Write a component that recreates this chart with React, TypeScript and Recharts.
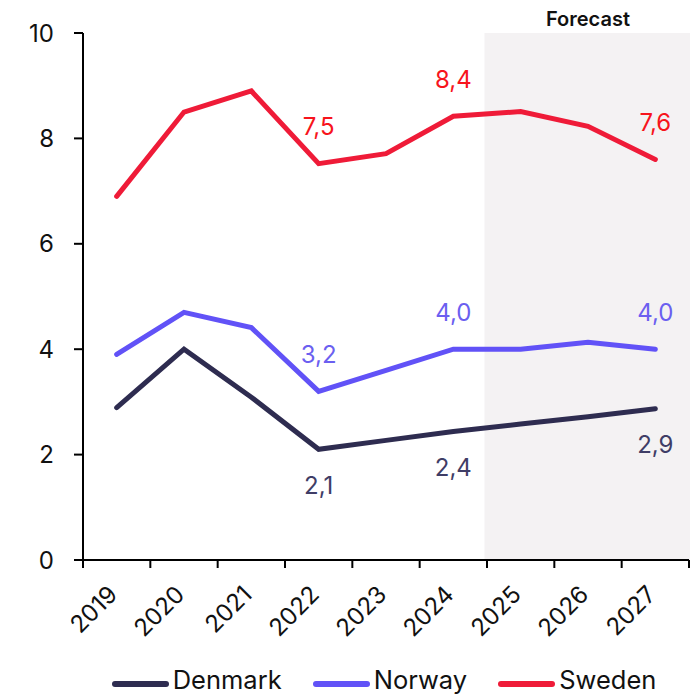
import React from 'react';
import { LineChart, Line, XAxis, YAxis, ReferenceArea, Legend, LabelList } from 'recharts';

const years = ['2019', '2020', '2021', '2022', '2023', '2024', '2025', '2026', '2027'];
const denmark = [2.89, 4.0, 3.09, 2.1, 2.27, 2.44, 2.58, 2.72, 2.87];
const norway = [3.9, 4.7, 4.41, 3.2, 3.6, 4.0, 4.0, 4.13, 4.0];
const sweden = [6.9, 8.5, 8.9, 7.52, 7.71, 8.42, 8.51, 8.23, 7.6];
const yTicks = [0, 2, 4, 6, 8, 10];
const labelledYears = ['2022', '2024', '2027'];
const forecastStart = '2025';
const forecastEnd = '2027';

const data = years.map((year, i) => ({
  year,
  Denmark: denmark[i],
  Norway: norway[i],
  Sweden: sweden[i],
}));

const W = 700;
const H = 695;
const PLOT_LEFT = 83;
const PLOT_RIGHT = 689;
const HALF_BAND = (PLOT_RIGHT - PLOT_LEFT) / years.length / 2;

const COLORS = { Denmark: '#2e2c50', Norway: '#6152f7', Sweden: '#ef1b38' };
const LABEL_COLORS = { Denmark: '#3f3d66', Norway: '#6b5ff0', Sweden: '#f7141c' };

const fmt = (v: number) => v.toFixed(1).replace('.', ',');

const YearTick = ({ x, y, payload, index }: any) => {
  const tx = x + 2;
  const ty = y + 36;
  return (
    <g>
      <line x1={x - HALF_BAND} x2={x - HALF_BAND} y1={y} y2={y + 8} stroke="#000" strokeWidth={2} />
      {index === years.length - 1 && (
        <line x1={x + HALF_BAND} x2={x + HALF_BAND} y1={y} y2={y + 8} stroke="#000" strokeWidth={2} />
      )}
      <text
        x={tx}
        y={ty}
        transform={`rotate(-45 ${tx} ${ty})`}
        textAnchor="end"
        fontSize={24}
        fill="#111"
      >
        {payload.value}
      </text>
    </g>
  );
};

// value labels only on a few years, above or below the point
const makeLabel = (color: string, dy: number) => (props: any) => {
  const { x, y, value, index } = props;
  if (!labelledYears.includes(years[index])) return null;
  return (
    <text x={x} y={y + dy} textAnchor="middle" dominantBaseline="central" fill={color} fontSize={24}>
      {fmt(value)}
    </text>
  );
};

const ForecastShade = (props: any) => {
  const { x, y, width, height } = props;
  return <rect x={x - HALF_BAND - 2.5} y={y} width={width + 2 * HALF_BAND + 3.5} height={height} fill="#f4f2f3" />;
};

const LegendContent = ({ payload }: any) => (
  <div
    style={{
      width: W,
      height: 50,
      display: 'flex',
      justifyContent: 'center',
      alignItems: 'center',
      paddingTop: 20,
      paddingLeft: 68,
      boxSizing: 'border-box',
    }}
  >
    {(payload || []).map((entry: any, i: number) => (
      <div
        key={entry.value}
        style={{ display: 'flex', alignItems: 'center', marginRight: i < payload.length - 1 ? 31 : 0 }}
      >
        <svg width={57} height={8} style={{ position: 'relative', top: 4, marginRight: 4 }}>
          <line x1={3} x2={54} y1={4} y2={4} stroke={entry.color} strokeWidth={6} strokeLinecap="round" />
        </svg>
        <span style={{ fontSize: 25.5, color: '#111', lineHeight: 1.2 }}>{entry.value}</span>
      </div>
    ))}
  </div>
);

export default function App() {
  return (
    <div style={{ position: 'absolute', left: 0, top: 0, fontFamily: 'Inter, sans-serif' }}>
      <LineChart width={W} height={H} data={data} margin={{ top: 33, right: W - PLOT_RIGHT, left: 0, bottom: 0 }}>
        <ReferenceArea
          x1={forecastStart}
          x2={forecastEnd}
          shape={<ForecastShade />}
          label={{ value: 'Forecast', position: 'top', offset: 7, fill: '#111', fontSize: 20, fontWeight: 600 }}
          ifOverflow="visible"
        />
        <XAxis
          dataKey="year"
          type="category"
          scale="point"
          padding={{ left: HALF_BAND, right: HALF_BAND }}
          height={85}
          axisLine={{ stroke: '#000', strokeWidth: 2 }}
          tickLine={false}
          tickSize={0}
          tickMargin={0}
          interval={0}
          tick={<YearTick />}
        />
        <YAxis
          domain={[0, 10]}
          ticks={yTicks}
          width={PLOT_LEFT}
          axisLine={{ stroke: '#000', strokeWidth: 2 }}
          tickLine={{ stroke: '#000', strokeWidth: 2 }}
          tickSize={9}
          tickMargin={20}
          tick={{ fontSize: 24, fill: '#111' }}
        />
        <Legend verticalAlign="bottom" height={50} wrapperStyle={{ left: 0, width: W }} content={<LegendContent />} />
        <Line
          dataKey="Denmark"
          stroke={COLORS.Denmark}
          strokeWidth={5}
          strokeLinecap="round"
          dot={false}
          activeDot={false}
          isAnimationActive={false}
        >
          <LabelList dataKey="Denmark" content={makeLabel(LABEL_COLORS.Denmark, 36)} />
        </Line>
        <Line
          dataKey="Norway"
          stroke={COLORS.Norway}
          strokeWidth={5}
          strokeLinecap="round"
          dot={false}
          activeDot={false}
          isAnimationActive={false}
        >
          <LabelList dataKey="Norway" content={makeLabel(LABEL_COLORS.Norway, -37)} />
        </Line>
        <Line
          dataKey="Sweden"
          stroke={COLORS.Sweden}
          strokeWidth={5}
          strokeLinecap="round"
          dot={false}
          activeDot={false}
          isAnimationActive={false}
        >
          <LabelList dataKey="Sweden" content={makeLabel(LABEL_COLORS.Sweden, -37)} />
        </Line>
      </LineChart>
    </div>
  );
}
